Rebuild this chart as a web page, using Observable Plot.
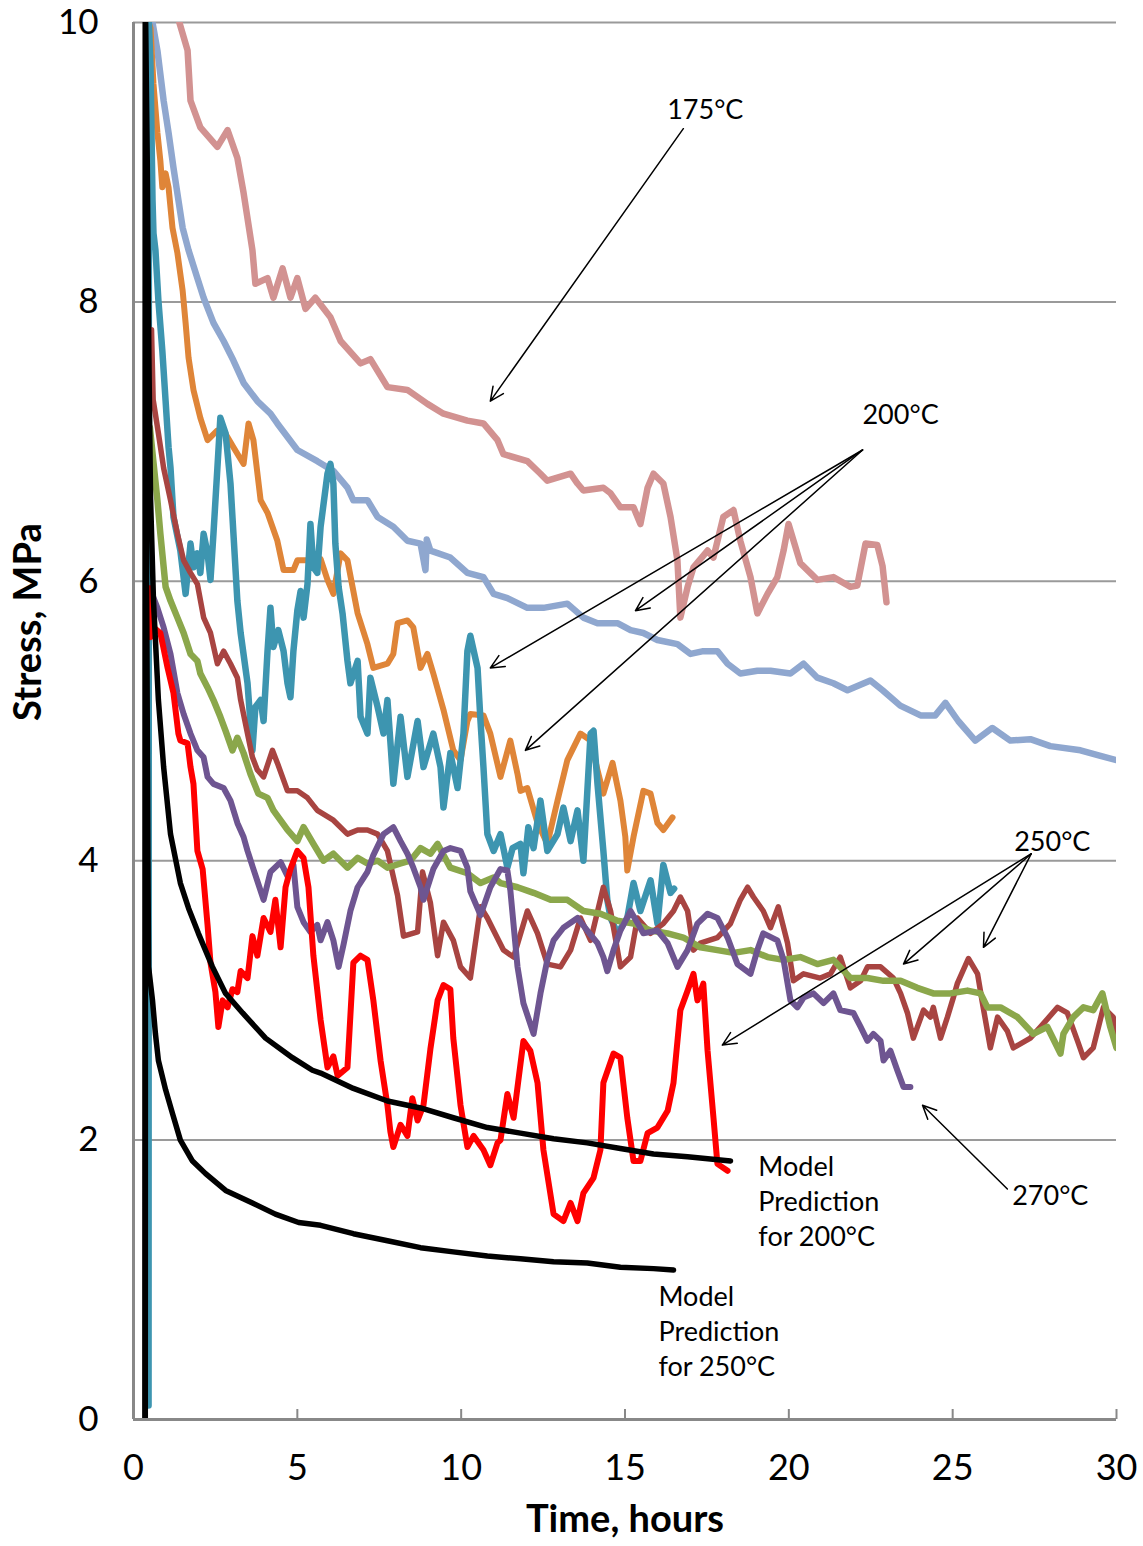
<!DOCTYPE html>
<html>
<head>
<meta charset="utf-8">
<script src="https://cdn.jsdelivr.net/npm/d3@7"></script>
<script src="https://cdn.jsdelivr.net/npm/@observablehq/plot@0.6"></script>
<style>
  html, body { margin: 0; padding: 0; background: #fff; }
  #chart svg { display: block; }
</style>
</head>
<body>
<div id="chart"></div>
<script>
// ---- Tick values ----
const xTicks = [0, 5, 10, 15, 20, 25, 30];
const yTicks = [0, 2, 4, 6, 8, 10];
const yGrid = [2, 4, 6, 8, 10];

// ---- Series: [time (hours), stress (MPa)] ----
const s175 = [[1.40,10.0],[1.65,9.8],[1.74,9.44],[2.04,9.25],[2.56,9.11],[2.87,9.23],[3.17,9.03],[3.36,8.78],[3.63,8.37],[3.72,8.13],[4.09,8.17],[4.27,8.03],[4.55,8.24],[4.79,8.03],[5.0,8.17],[5.25,7.95],[5.55,8.03],[6.01,7.89],[6.32,7.72],[6.93,7.56],[7.23,7.59],[7.75,7.39],[8.36,7.37],[8.97,7.27],[9.46,7.2],[10.19,7.15],[10.68,7.13],[11.11,7.01],[11.29,6.91],[12.02,6.86],[12.42,6.77],[12.63,6.72],[13.34,6.77],[13.55,6.7],[13.73,6.65],[14.34,6.67],[14.56,6.63],[14.86,6.53],[15.26,6.53],[15.47,6.41],[15.69,6.67],[15.87,6.77],[16.17,6.7],[16.39,6.46],[16.6,6.15],[16.69,5.74],[16.91,5.96],[17.09,6.1],[17.52,6.22],[17.7,6.17],[18.0,6.46],[18.31,6.51],[18.52,6.29],[18.83,6.03],[19.04,5.77],[19.35,5.91],[19.65,6.03],[19.84,6.22],[19.99,6.41],[20.35,6.13],[20.87,6.01],[21.36,6.03],[21.88,5.96],[22.09,5.97],[22.34,6.27],[22.7,6.26],[22.86,6.11],[22.98,5.85]];

const s200a = [[0.58,10.0],[0.61,9.96],[0.73,9.8],[0.92,9.44],[1.07,9.21],[1.22,8.96],[1.37,8.73],[1.5,8.53],[1.68,8.37],[1.95,8.17],[2.14,8.03],[2.44,7.85],[2.75,7.72],[3.05,7.58],[3.36,7.42],[3.78,7.29],[4.18,7.2],[4.39,7.13],[5.0,6.94],[5.61,6.86],[6.1,6.79],[6.53,6.67],[6.71,6.58],[7.14,6.58],[7.45,6.46],[7.93,6.39],[8.36,6.29],[8.76,6.27],[8.91,6.08],[8.95,6.3],[9.06,6.22],[9.67,6.17],[10.19,6.06],[10.68,6.03],[10.99,5.91],[11.41,5.88],[12.02,5.81],[12.51,5.81],[13.24,5.84],[13.73,5.74],[14.16,5.7],[14.77,5.7],[15.17,5.65],[15.56,5.63],[15.99,5.58],[16.6,5.55],[17.0,5.48],[17.39,5.5],[17.82,5.5],[18.13,5.41],[18.52,5.34],[19.04,5.36],[19.44,5.36],[20.05,5.34],[20.45,5.41],[20.87,5.31],[21.36,5.27],[21.79,5.22],[22.49,5.29],[22.86,5.22],[23.4,5.11],[24.02,5.04],[24.47,5.04],[24.78,5.13],[25.17,5.0],[25.69,4.86],[26.21,4.95],[26.76,4.86],[27.37,4.87],[27.98,4.82],[28.9,4.79],[29.51,4.75],[30.0,4.72]];

const s200b = [[0.46,10.0],[0.52,9.96],[0.61,9.56],[0.73,9.21],[0.82,9.01],[0.88,8.82],[0.98,8.92],[1.07,8.82],[1.19,8.53],[1.34,8.35],[1.5,8.08],[1.59,7.85],[1.68,7.6],[1.83,7.37],[2.04,7.17],[2.26,7.01],[2.56,7.08],[2.75,7.08],[3.05,6.96],[3.36,6.84],[3.51,7.13],[3.66,7.01],[3.88,6.58],[4.09,6.49],[4.39,6.29],[4.58,6.08],[4.88,6.08],[5.0,6.15],[5.31,6.15],[5.71,6.16],[5.92,6.01],[6.1,5.91],[6.32,6.2],[6.53,6.15],[6.84,5.77],[7.14,5.55],[7.32,5.38],[7.75,5.41],[7.93,5.48],[8.06,5.7],[8.36,5.72],[8.54,5.67],[8.76,5.38],[8.97,5.48],[9.15,5.34],[9.46,5.08],[9.76,4.79],[9.98,4.72],[10.19,5.0],[10.28,5.05],[10.68,5.04],[10.89,4.91],[11.2,4.6],[11.5,4.86],[11.72,4.62],[11.81,4.5],[12.02,4.52],[12.33,4.27],[12.63,4.12],[12.94,4.43],[13.24,4.72],[13.64,4.91],[13.95,4.86],[14.16,4.65],[14.34,4.48],[14.62,4.7],[14.86,4.43],[15.01,4.17],[15.07,3.93],[15.26,4.17],[15.56,4.5],[15.78,4.48],[15.99,4.27],[16.17,4.22],[16.45,4.31]];

const s200c = [[0.46,0.1],[0.47,10.0],[0.52,9.68],[0.58,8.73],[0.61,8.49],[0.67,8.37],[0.76,8.01],[0.88,7.65],[0.98,7.29],[1.07,6.96],[1.13,6.81],[1.22,6.46],[1.43,6.22],[1.59,5.91],[1.74,6.27],[1.83,6.1],[1.95,6.2],[2.04,6.06],[2.14,6.34],[2.26,6.2],[2.35,6.01],[2.44,6.34],[2.56,6.81],[2.65,7.17],[2.81,7.06],[2.96,6.7],[3.05,6.34],[3.17,5.86],[3.27,5.63],[3.48,5.27],[3.63,4.79],[3.72,5.1],[3.88,5.15],[3.97,5.0],[4.09,5.5],[4.18,5.81],[4.27,5.53],[4.42,5.65],[4.58,5.5],[4.7,5.27],[4.79,5.17],[4.88,5.5],[5.0,5.79],[5.1,5.93],[5.19,5.74],[5.31,5.98],[5.4,6.41],[5.49,6.1],[5.61,6.06],[5.71,6.39],[5.92,6.77],[6.01,6.84],[6.1,6.7],[6.16,6.27],[6.26,5.96],[6.38,5.77],[6.53,5.43],[6.62,5.27],[6.84,5.43],[6.93,5.03],[7.14,4.91],[7.23,5.31],[7.45,5.1],[7.63,4.91],[7.75,5.15],[7.93,4.55],[8.15,5.03],[8.36,4.6],[8.67,5.0],[8.85,4.67],[9.15,4.91],[9.37,4.67],[9.46,4.38],[9.67,4.77],[9.89,4.52],[10.07,4.91],[10.19,5.5],[10.28,5.61],[10.5,5.38],[10.59,5.0],[10.68,4.67],[10.8,4.19],[10.99,4.07],[11.2,4.19],[11.41,3.95],[11.57,4.09],[11.81,4.12],[11.9,3.91],[12.05,4.24],[12.21,4.09],[12.42,4.43],[12.63,4.07],[12.94,4.19],[13.12,4.38],[13.34,4.14],[13.55,4.36],[13.73,4.0],[13.95,4.91],[14.04,4.93],[14.16,4.55],[14.34,4.07],[14.46,3.72],[14.56,3.59],[14.77,3.48],[15.07,3.59],[15.26,3.84],[15.47,3.64],[15.78,3.86],[15.99,3.55],[16.17,3.97],[16.39,3.77],[16.5,3.8]];

const s250a = [[0.55,7.8],[0.6,7.3],[0.76,7.06],[0.92,6.81],[1.13,6.58],[1.34,6.34],[1.53,6.15],[1.74,6.06],[1.95,5.98],[2.14,5.74],[2.35,5.63],[2.56,5.41],[2.75,5.5],[2.96,5.41],[3.17,5.31],[3.27,5.15],[3.48,4.91],[3.63,4.74],[3.78,4.65],[3.97,4.6],[4.24,4.79],[4.39,4.7],[4.7,4.5],[5.0,4.5],[5.31,4.45],[5.61,4.36],[6.1,4.29],[6.53,4.19],[6.84,4.22],[7.14,4.22],[7.45,4.19],[7.75,4.07],[8.06,3.75],[8.24,3.46],[8.67,3.49],[8.82,3.92],[9.06,3.7],[9.28,3.32],[9.46,3.56],[9.76,3.43],[9.98,3.24],[10.28,3.16],[10.59,3.67],[10.8,3.59],[10.99,3.5],[11.29,3.36],[11.6,3.31],[12.02,3.64],[12.33,3.48],[12.63,3.26],[13.03,3.24],[13.34,3.36],[13.64,3.59],[13.95,3.43],[14.34,3.81],[14.56,3.64],[14.86,3.24],[15.17,3.31],[15.38,3.59],[15.78,3.48],[16.17,3.55],[16.48,3.64],[16.69,3.74],[16.91,3.64],[17.09,3.36],[17.3,3.41],[17.82,3.45],[18.22,3.55],[18.52,3.72],[18.74,3.81],[18.92,3.74],[19.22,3.64],[19.44,3.52],[19.68,3.67],[19.96,3.41],[20.14,3.14],[20.45,3.19],[20.96,3.16],[21.27,3.19],[21.57,3.31],[21.88,3.09],[22.19,3.14],[22.4,3.24],[22.8,3.24],[23.19,3.16],[23.41,3.05],[23.62,2.91],[23.8,2.73],[24.11,2.93],[24.32,2.88],[24.41,2.95],[24.63,2.73],[24.84,2.88],[25.02,3.02],[25.14,3.12],[25.48,3.3],[25.76,3.19],[25.91,2.98],[26.15,2.66],[26.37,2.88],[26.67,2.78],[26.85,2.66],[27.37,2.73],[27.68,2.81],[28.2,2.95],[28.5,2.91],[28.81,2.71],[28.99,2.59],[29.29,2.66],[29.6,2.95],[29.9,2.88],[30.0,2.75]];

const s250b = [[0.5,7.1],[0.61,6.85],[0.73,6.58],[0.82,6.34],[0.98,5.96],[1.13,5.86],[1.34,5.74],[1.53,5.63],[1.74,5.48],[1.95,5.43],[2.04,5.34],[2.26,5.24],[2.44,5.15],[2.65,5.03],[2.81,4.93],[3.02,4.79],[3.17,4.88],[3.36,4.77],[3.57,4.62],[3.81,4.48],[4.09,4.45],[4.27,4.36],[4.7,4.22],[5.0,4.14],[5.19,4.24],[5.49,4.12],[5.8,4.0],[6.1,4.05],[6.53,3.95],[6.84,4.02],[7.14,3.98],[7.45,4.0],[7.75,3.95],[8.15,3.98],[8.45,4.0],[8.76,4.09],[9.06,4.05],[9.28,4.12],[9.67,3.95],[10.19,3.91],[10.59,3.84],[10.99,3.88],[11.2,3.84],[11.72,3.81],[12.21,3.77],[12.73,3.72],[13.24,3.72],[13.73,3.64],[14.25,3.62],[14.77,3.57],[15.26,3.55],[15.78,3.5],[16.3,3.48],[16.78,3.45],[17.3,3.38],[17.82,3.36],[18.31,3.34],[18.83,3.36],[19.35,3.31],[19.84,3.29],[20.35,3.31],[20.87,3.26],[21.36,3.29],[21.88,3.16],[22.4,3.16],[22.89,3.14],[23.41,3.14],[23.92,3.09],[24.41,3.05],[24.93,3.05],[25.45,3.07],[25.85,3.05],[26.06,2.95],[26.46,2.95],[26.98,2.88],[27.46,2.76],[27.89,2.81],[28.29,2.62],[28.38,2.76],[28.68,2.88],[28.99,2.95],[29.29,2.93],[29.57,3.05],[29.81,2.81],[30.0,2.66]];

const s270 = [[0.5,5.95],[0.73,5.81],[0.92,5.67],[1.13,5.48],[1.34,5.2],[1.53,5.05],[1.74,4.91],[1.95,4.79],[2.14,4.74],[2.26,4.6],[2.44,4.55],[2.75,4.52],[2.96,4.43],[3.17,4.27],[3.36,4.17],[3.48,4.07],[3.66,3.94],[3.97,3.72],[4.18,3.92],[4.49,3.99],[4.7,3.89],[4.88,3.97],[5.0,3.67],[5.19,3.56],[5.4,3.49],[5.61,3.54],[5.71,3.43],[5.92,3.56],[6.1,3.43],[6.26,3.24],[6.41,3.4],[6.62,3.64],[6.84,3.81],[7.14,3.92],[7.32,4.04],[7.63,4.19],[7.93,4.24],[8.15,4.14],[8.36,4.05],[8.54,3.95],[8.76,3.81],[8.85,3.72],[9.15,3.94],[9.46,4.07],[9.67,4.09],[9.98,4.07],[10.19,3.95],[10.28,3.78],[10.59,3.61],[10.89,3.81],[11.2,3.94],[11.41,3.93],[11.5,3.79],[11.72,3.24],[11.9,2.98],[12.21,2.76],[12.42,3.05],[12.63,3.29],[12.82,3.43],[13.12,3.52],[13.55,3.59],[13.85,3.5],[14.16,3.41],[14.34,3.31],[14.46,3.21],[14.65,3.36],[14.86,3.5],[15.17,3.64],[15.56,3.48],[15.99,3.5],[16.3,3.41],[16.6,3.24],[16.91,3.36],[17.21,3.55],[17.52,3.62],[17.82,3.59],[18.13,3.45],[18.43,3.26],[18.83,3.19],[19.04,3.36],[19.22,3.48],[19.65,3.43],[19.84,3.29],[20.05,3.0],[20.26,2.95],[20.45,3.02],[20.75,3.05],[21.06,2.98],[21.36,3.05],[21.57,2.93],[21.97,2.91],[22.19,2.81],[22.4,2.71],[22.58,2.76],[22.8,2.71],[22.89,2.57],[23.1,2.64],[23.31,2.5],[23.5,2.38],[23.71,2.38]];

const s250c = [[0.5,5.95],[0.52,5.6],[0.61,5.67],[0.82,5.63],[1.04,5.38],[1.22,5.2],[1.37,4.91],[1.43,4.86],[1.65,4.84],[1.74,4.67],[1.83,4.55],[1.95,4.07],[2.11,3.94],[2.26,3.54],[2.35,3.27],[2.5,3.06],[2.59,2.81],[2.72,3.0],[2.87,2.95],[3.02,3.08],[3.17,3.06],[3.27,3.21],[3.48,3.16],[3.63,3.46],[3.78,3.32],[3.97,3.59],[4.18,3.49],[4.33,3.72],[4.49,3.38],[4.64,3.81],[4.79,3.94],[5.0,4.07],[5.19,4.02],[5.34,3.81],[5.49,3.32],[5.71,2.86],[5.92,2.52],[6.1,2.6],[6.23,2.46],[6.53,2.52],[6.71,3.27],[6.93,3.32],[7.14,3.29],[7.32,3.0],[7.54,2.57],[7.75,2.25],[7.84,2.06],[7.93,1.95],[8.15,2.11],[8.36,2.03],[8.51,2.3],[8.67,2.14],[8.85,2.25],[9.06,2.65],[9.28,3.0],[9.46,3.11],[9.67,3.08],[9.76,2.73],[9.98,2.25],[10.19,1.95],[10.38,2.03],[10.68,1.93],[10.89,1.82],[11.11,1.98],[11.2,2.0],[11.41,2.33],[11.6,2.16],[11.9,2.71],[12.11,2.64],[12.33,2.41],[12.51,1.93],[12.82,1.47],[13.12,1.42],[13.34,1.55],[13.55,1.42],[13.73,1.62],[14.04,1.73],[14.25,1.93],[14.34,2.41],[14.65,2.62],[14.86,2.59],[15.07,2.16],[15.26,1.85],[15.47,1.85],[15.69,2.05],[15.99,2.09],[16.3,2.21],[16.48,2.41],[16.69,2.93],[16.91,3.07],[17.09,3.19],[17.21,3.0],[17.39,3.12],[17.52,2.64],[17.7,2.16],[17.82,1.83],[18.13,1.78]];

const model200 = [[0.36,0],[0.37,10.0],[0.42,9.0],[0.47,7.6],[0.52,6.6],[0.61,5.86],[0.76,5.15],[0.92,4.67],[1.13,4.19],[1.43,3.84],[1.68,3.66],[1.98,3.48],[2.41,3.24],[2.81,3.05],[3.33,2.91],[4.03,2.73],[4.85,2.59],[5.46,2.5],[5.71,2.48],[6.71,2.37],[7.75,2.28],[8.76,2.23],[9.76,2.16],[10.8,2.09],[11.81,2.05],[12.82,2.01],[13.85,1.98],[14.86,1.94],[15.87,1.9],[16.91,1.88],[18.22,1.85]];

const model250 = [[0.35,0],[0.36,10.0],[0.40,6.0],[0.44,4.0],[0.46,3.24],[0.58,3.0],[0.67,2.76],[0.76,2.57],[0.98,2.36],[1.19,2.19],[1.43,2.0],[1.8,1.85],[2.2,1.76],[2.81,1.64],[3.63,1.55],[4.33,1.47],[5.04,1.41],[5.71,1.39],[6.71,1.33],[7.75,1.28],[8.76,1.23],[9.76,1.2],[10.8,1.17],[11.81,1.15],[12.82,1.13],[13.85,1.12],[14.86,1.09],[15.87,1.08],[16.48,1.07]];

// ---- Annotations ----
const labelText = ["175°C", "200°C", "250°C", "270°C"];
const labelT = [17.45, 23.41, 28.04, 27.98];
const labelS = [9.37, 7.19, 4.13, 1.60];
const modelText = ["Model\nPrediction\nfor 200°C", "Model\nPrediction\nfor 250°C"];
const modelT = [19.07, 16.02];
const modelS = [1.57, 0.64];
const arrowFromT = [16.78, 22.25, 22.25, 22.25, 27.4, 27.4, 27.4, 26.67];
const arrowFromS = [9.24, 6.94, 6.94, 6.94, 4.05, 4.05, 4.05, 1.65];
const arrowToT   = [10.89, 10.89, 15.32, 11.96, 17.97, 23.5, 25.94, 24.08];
const arrowToS   = [7.29, 5.38, 5.79, 4.79, 2.68, 3.26, 3.38, 2.25];

const series = [
  {data: s175,  color: "#D29291", w: 6.5},
  {data: s200a, color: "#8FA7CF", w: 6.5},
  {data: s200b, color: "#DF8538", w: 6},
  {data: s200c, color: "#3D95B0", w: 6.5},
  {data: s250a, color: "#A84441", w: 5.5},
  {data: s250b, color: "#8BA74B", w: 6.5},
  {data: s270,  color: "#6E5591", w: 6},
  {data: s250c, color: "#FF0000", w: 6},
  {data: model200, color: "#000000", w: 5.5},
  {data: model250, color: "#000000", w: 5.5}
];

const arrows = arrowFromT.map((d, i) => ({x1: d, y1: arrowFromS[i], x2: arrowToT[i], y2: arrowToS[i]}));
const labels = labelText.map((d, i) => ({text: d, x: labelT[i], y: labelS[i]}));
const mlabels = modelText.map((d, i) => ({text: d, x: modelT[i], y: modelS[i]}));

const FONT = "Lato, 'Open Sans', 'Liberation Sans', sans-serif";

const chart = Plot.plot({
  width: 1143,
  height: 1546,
  marginLeft: 133,
  marginRight: 27,
  marginTop: 22,
  marginBottom: 127,
  style: {fontFamily: FONT, background: "#fff", color: "#000", overflow: "visible"},
  x: {domain: [0, 30]},
  y: {domain: [0, 10]},
  marks: [
    Plot.ruleY(yGrid, {stroke: "#9a9a9a", strokeWidth: 2}),
    ...series.map(s => Plot.line(s.data, {stroke: s.color, strokeWidth: s.w, strokeLinejoin: "round", strokeLinecap: "round", clip: true})),
    Plot.ruleX([0], {stroke: "#888", strokeWidth: 3}),
    Plot.ruleY([0], {stroke: "#888", strokeWidth: 3}),
    Plot.tickX(xTicks, {x: d => d, stroke: "#888", strokeWidth: 2, insetTop: 1387}),
    Plot.axisY(yTicks, {tickSize: 0, tickPadding: 35, fontSize: 35, label: null, tickFormat: d3.format("d")}),
    Plot.axisX(xTicks, {tickSize: 0, tickPadding: 35, fontSize: 36, label: null, tickFormat: d3.format("d")}),
    Plot.text(["Stress, MPa"], {frameAnchor: "left", dx: -105, rotate: -90, fontSize: 38, fontWeight: "bold"}),
    Plot.text(["Time, hours"], {frameAnchor: "bottom", dy: 112, fontSize: 38, fontWeight: "bold"}),
    Plot.arrow(arrows, {x1: "x1", y1: "y1", x2: "x2", y2: "y2", stroke: "#000", strokeWidth: 1.5, headLength: 15, headAngle: 50}),
    Plot.text(labels, {x: "x", y: "y", text: "text", fontSize: 27, fill: "#000"}),
    Plot.text(mlabels, {x: "x", y: "y", text: "text", fontSize: 27, textAnchor: "start", lineHeight: 1.3, fill: "#000"})
  ]
});
document.getElementById("chart").appendChild(chart);
</script>
</body>
</html>
